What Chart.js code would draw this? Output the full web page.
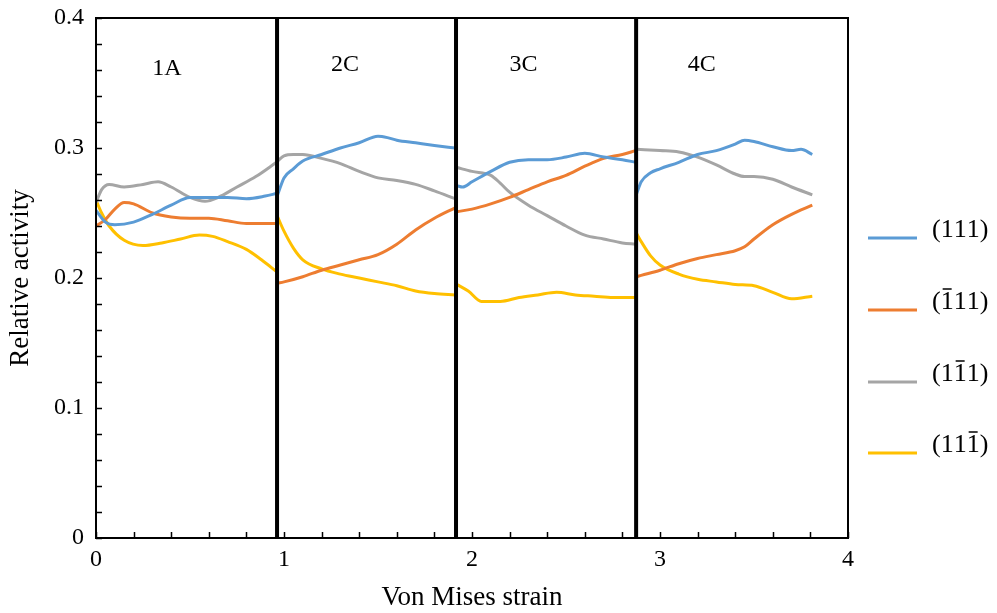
<!DOCTYPE html>
<html>
<head>
<meta charset="utf-8">
<script src="https://cdn.jsdelivr.net/npm/chart.js@4"></script>
<style>
    html, body { margin: 0; padding: 0; background: #fff; }
    #wrap { width: 997px; height: 613px; }
</style>
</head>
<body>
<div id="wrap"><canvas id="activityChart"></canvas></div>
<script>
/**=================
 * Data
 =================*/
// null in a Y array breaks the line between two passes
const blueX = [0, 0.05, 0.1, 0.2, 0.3, 0.4, 0.5, 0.6, 0.7, 0.8, 0.9, 0.96, 0.964,
    0.966, 1.0, 1.05, 1.1, 1.2, 1.3, 1.4, 1.5, 1.55, 1.6, 1.7, 1.8, 1.91, 1.915,
    1.92, 1.95, 2.0, 2.1, 2.2, 2.3, 2.4, 2.5, 2.6, 2.7, 2.8, 2.87, 2.873,
    2.876, 2.9, 2.95, 3.0, 3.1, 3.2, 3.3, 3.4, 3.45, 3.5, 3.6, 3.7, 3.75, 3.81];
const blueY = [0.252, 0.243, 0.241, 0.243, 0.249, 0.256, 0.262, 0.262, 0.262, 0.261, 0.263, 0.265, null,
    0.264, 0.277, 0.284, 0.290, 0.295, 0.300, 0.304, 0.309, 0.308, 0.306, 0.304, 0.302, 0.300, null,
    0.271, 0.270, 0.274, 0.282, 0.289, 0.291, 0.291, 0.293, 0.296, 0.293, 0.291, 0.289, null,
    0.265, 0.274, 0.281, 0.284, 0.289, 0.295, 0.298, 0.303, 0.306, 0.305, 0.301, 0.298, 0.299, 0.295];

const orangeX = [0, 0.05, 0.1, 0.15, 0.2, 0.3, 0.4, 0.5, 0.6, 0.7, 0.8, 0.9, 0.96, 0.964,
    0.966, 1.0, 1.1, 1.2, 1.3, 1.4, 1.5, 1.6, 1.7, 1.8, 1.91, 1.915,
    1.92, 2.0, 2.1, 2.2, 2.3, 2.4, 2.5, 2.6, 2.7, 2.8, 2.87, 2.873,
    2.876, 2.9, 3.0, 3.1, 3.2, 3.3, 3.4, 3.45, 3.5, 3.6, 3.7, 3.81];
const orangeY = [0.240, 0.245, 0.253, 0.258, 0.257, 0.250, 0.247, 0.246, 0.246, 0.244, 0.242, 0.242, 0.242, null,
    0.196, 0.197, 0.201, 0.206, 0.210, 0.214, 0.218, 0.226, 0.237, 0.246, 0.254, null,
    0.251, 0.253, 0.257, 0.262, 0.268, 0.274, 0.279, 0.286, 0.292, 0.295, 0.298, null,
    0.201, 0.202, 0.206, 0.211, 0.215, 0.218, 0.221, 0.224, 0.230, 0.241, 0.249, 0.256];

const grayX = [0, 0.03, 0.07, 0.15, 0.25, 0.33, 0.4, 0.5, 0.58, 0.65, 0.75, 0.85, 0.96, 0.964,
    0.966, 1.0, 1.05, 1.1, 1.2, 1.3, 1.4, 1.5, 1.6, 1.7, 1.8, 1.91, 1.915,
    1.92, 2.0, 2.1, 2.15, 2.2, 2.3, 2.4, 2.5, 2.6, 2.7, 2.8, 2.87, 2.873,
    2.876, 3.0, 3.1, 3.2, 3.3, 3.4, 3.45, 3.5, 3.6, 3.7, 3.81];
const grayY = [0.258, 0.268, 0.272, 0.270, 0.272, 0.274, 0.270, 0.262, 0.259, 0.262, 0.270, 0.278, 0.289, null,
    0.290, 0.294, 0.295, 0.295, 0.292, 0.288, 0.282, 0.277, 0.275, 0.272, 0.267, 0.261, null,
    0.285, 0.282, 0.279, 0.273, 0.266, 0.256, 0.248, 0.240, 0.233, 0.230, 0.227, 0.226, null,
    0.299, 0.298, 0.297, 0.293, 0.287, 0.280, 0.278, 0.278, 0.276, 0.270, 0.264];

const yellowX = [0, 0.03, 0.07, 0.15, 0.25, 0.35, 0.45, 0.55, 0.62, 0.7, 0.8, 0.88, 0.96, 0.964,
    0.966, 1.0, 1.05, 1.1, 1.2, 1.3, 1.4, 1.5, 1.6, 1.7, 1.8, 1.91, 1.915,
    1.92, 1.98, 2.05, 2.15, 2.25, 2.35, 2.45, 2.55, 2.65, 2.75, 2.87, 2.873,
    2.876, 2.9, 2.95, 3.0, 3.1, 3.2, 3.3, 3.4, 3.5, 3.6, 3.7, 3.81];
const yellowY = [0.260, 0.250, 0.240, 0.229, 0.225, 0.227, 0.230, 0.233, 0.232, 0.228, 0.222, 0.214, 0.205, null,
    0.247, 0.236, 0.223, 0.214, 0.207, 0.203, 0.200, 0.197, 0.194, 0.190, 0.188, 0.187, null,
    0.195, 0.190, 0.182, 0.182, 0.185, 0.187, 0.189, 0.187, 0.186, 0.185, 0.185, null,
    0.234, 0.228, 0.217, 0.210, 0.203, 0.199, 0.197, 0.195, 0.194, 0.189, 0.184, 0.186];

// pass boundaries and pass names
const passBounds = [0.963, 1.915, 2.873];
const passNames = ['1A', '2C', '3C', '4C'];
const passLabelX = [0.377, 1.325, 2.274, 3.222];
const passLabelY = [0.361, 0.364, 0.364, 0.364];

// legend: text and index of the digit carrying an overbar (-1 = none)
const seriesNames = ['(111)', '(111)', '(111)', '(111)'];
const seriesBar = [-1, 1, 2, 3];
const seriesColors = ['#5B9BD5', '#ED7D31', '#A5A5A5', '#FFC000'];

const xTicks = [0, 1, 2, 3, 4];
const yTicks = [0, 0.1, 0.2, 0.3, 0.4];

const SERIF = '"Liberation Serif", "DejaVu Serif", serif';

const zip = (xs, ys) => xs.map((x, i) => ({ x: x, y: ys[i] }));

/**=================
 * Plugins
 =================*/
const frameAndTicks = {
    id: 'frameAndTicks',
    afterDatasetsDraw(chart) {
        const { ctx, chartArea: a, scales: { x, y } } = chart;
        ctx.save();
        ctx.strokeStyle = '#000';
        ctx.lineWidth = 2;
        ctx.strokeRect(a.left, a.top, a.right - a.left, a.bottom - a.top);

        // minor ticks pointing inward
        ctx.lineWidth = 1.5;
        ctx.beginPath();
        for (let i = 0; i <= 20; i++) {
            const py = Math.round(y.getPixelForValue(i * 0.02)) + 0.5;
            ctx.moveTo(a.left, py);
            ctx.lineTo(a.left + 6, py);
        }
        for (let i = 0; i <= 20; i++) {
            const px = Math.round(x.getPixelForValue(i * 0.2)) + 0.5;
            ctx.moveTo(px, a.bottom);
            ctx.lineTo(px, a.bottom - 6);
        }
        ctx.stroke();

        // pass boundaries
        ctx.lineWidth = 4;
        ctx.beginPath();
        passBounds.forEach(v => {
            const px = x.getPixelForValue(v);
            ctx.moveTo(px, a.top - 1);
            ctx.lineTo(px, a.bottom);
        });
        ctx.stroke();

        // pass names
        ctx.fillStyle = '#000';
        ctx.font = '24px ' + SERIF;
        ctx.textAlign = 'center';
        ctx.textBaseline = 'middle';
        passNames.forEach((n, i) => {
            ctx.fillText(n, x.getPixelForValue(passLabelX[i]), y.getPixelForValue(passLabelY[i]));
        });
        ctx.restore();
    },
    afterDraw(chart) {
        const { ctx } = chart;
        const lineY = [238, 310, 382, 453];
        ctx.save();
        ctx.font = '26px ' + SERIF;
        ctx.textBaseline = 'middle';
        ctx.textAlign = 'left';
        seriesNames.forEach((name, i) => {
            ctx.strokeStyle = seriesColors[i];
            ctx.lineWidth = 3;
            ctx.beginPath();
            ctx.moveTo(868, lineY[i]);
            ctx.lineTo(917, lineY[i]);
            ctx.stroke();

            let tx = 932;
            const ty = lineY[i] - 8;
            ctx.fillStyle = '#000';
            for (let k = 0; k < name.length; k++) {
                const ch = name[k];
                const w = ctx.measureText(ch).width;
                ctx.fillText(ch, tx, ty);
                if (k === seriesBar[i]) {
                    ctx.strokeStyle = '#000';
                    ctx.lineWidth = 1.5;
                    ctx.beginPath();
                    ctx.moveTo(tx + 2, ty - 13);
                    ctx.lineTo(tx + w - 2, ty - 13);
                    ctx.stroke();
                }
                tx += w;
            }
        });
        ctx.restore();
    }
};

/**=================
 * Chart
 =================*/
const lineDataset = (label, xs, ys, color) => ({
    label: label,
    data: zip(xs, ys),
    borderColor: color,
    backgroundColor: color,
    borderWidth: 3,
    pointRadius: 0,
    spanGaps: false,
    cubicInterpolationMode: 'monotone',
    fill: false
});

new Chart(document.getElementById('activityChart'), {
    type: 'line',
    data: {
        datasets: [
            lineDataset('(111)', blueX, blueY, seriesColors[0]),
            lineDataset('(-111)', orangeX, orangeY, seriesColors[1]),
            lineDataset('(1-11)', grayX, grayY, seriesColors[2]),
            lineDataset('(11-1)', yellowX, yellowY, seriesColors[3])
        ]
    },
    options: {
        responsive: true,
        maintainAspectRatio: false,
        animation: false,
        layout: { padding: { top: 18, right: 149, left: 0, bottom: 0 } },
        plugins: {
            legend: { display: false },
            tooltip: { enabled: false }
        },
        scales: {
            x: {
                type: 'linear',
                min: 0,
                max: 4,
                afterBuildTicks: s => { s.ticks = xTicks.map(v => ({ value: v })); },
                afterFit: s => { s.height = 75; s.paddingLeft = 0; s.paddingRight = 0; },
                grid: { display: false, drawTicks: false },
                border: { display: false },
                ticks: {
                    color: '#000',
                    padding: 10,
                    font: { family: SERIF, size: 24, lineHeight: 1 }
                },
                title: {
                    display: true,
                    text: 'Von Mises strain',
                    color: '#000',
                    font: { family: SERIF, size: 27, lineHeight: 1.1 },
                    padding: { top: 11, bottom: 0 }
                }
            },
            y: {
                type: 'linear',
                min: 0,
                max: 0.4,
                afterBuildTicks: s => { s.ticks = yTicks.map(v => ({ value: v })); },
                afterFit: s => { s.width = 96; s.paddingTop = 0; s.paddingBottom = 0; },
                grid: { display: false, drawTicks: false },
                border: { display: false },
                ticks: {
                    color: '#000',
                    padding: 12,
                    font: { family: SERIF, size: 24, lineHeight: 1 },
                    callback: v => (v === 0 ? '0' : v.toFixed(1))
                },
                title: {
                    display: true,
                    text: 'Relative activity',
                    color: '#000',
                    font: { family: SERIF, size: 27, lineHeight: 1.1 },
                    padding: { top: 6, bottom: 0 }
                }
            }
        }
    },
    plugins: [frameAndTicks]
});
</script>
</body>
</html>
